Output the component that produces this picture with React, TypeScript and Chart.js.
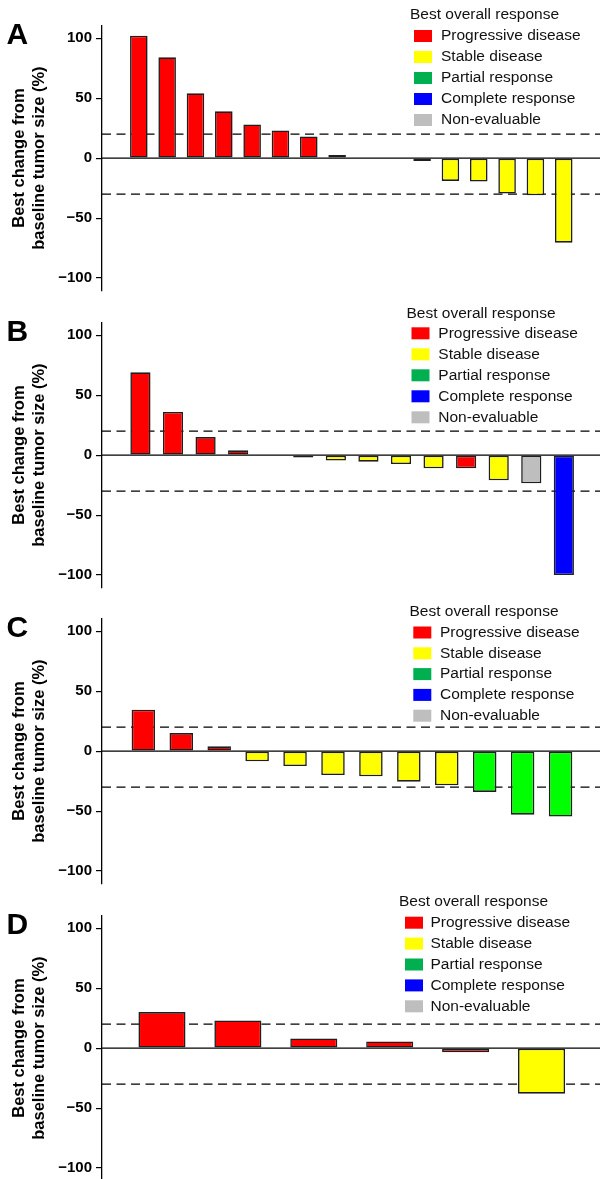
import React, { useEffect, useRef } from 'react';
import { Chart, registerables } from 'chart.js';

Chart.register(...registerables);

const FONT = '"Liberation Sans", Arial, Helvetica, sans-serif';

// ---- data ----
const legendTitle = 'Best overall response';
const responseLabels = ['Progressive disease', 'Stable disease', 'Partial response', 'Complete response', 'Non-evaluable'];
const responseCodes = ['PD', 'SD', 'PR', 'CR', 'NE'];
const legendColors = ['#FF0000', '#FFFF00', '#00B050', '#0000FF', '#BEBEBE'];
const barColors = ['#FF0000', '#FFFF00', '#00FF00', '#0000FF', '#BEBEBE'];

const panelLetters = ['A', 'B', 'C', 'D'];
const yTickValues = [-100, -50, 0, 50, 100];
const yAxisTitle = ['Best change from', 'baseline tumor size (%)'];
const refLines = [20, -30];

const valuesA = [102, 84, 54, 39, 28, 23, 18, 2.5, 0, 0, -2.5, -19, -19.5, -29.5, -31, -70.5];
const responsesA = ['PD', 'PD', 'PD', 'PD', 'PD', 'PD', 'PD', 'SD', 'SD', 'SD', 'PD', 'SD', 'SD', 'SD', 'SD', 'SD'];

const valuesB = [69, 36, 15, 4, 0, -2, -4.5, -5.5, -7.5, -11, -11, -21, -23.5, -100];
const responsesB = ['PD', 'PD', 'PD', 'PD', 'SD', 'SD', 'SD', 'SD', 'SD', 'SD', 'PD', 'SD', 'NE', 'CR'];

const valuesC = [34.5, 15, 4, -8.5, -12.5, -20, -21, -25.5, -28.5, -34, -53, -54.5];
const responsesC = ['PD', 'PD', 'PD', 'SD', 'SD', 'SD', 'SD', 'SD', 'SD', 'PR', 'PR', 'PR'];

const valuesD = [30, 23, 8, 5.5, -3.5, -38];
const responsesD = ['PD', 'PD', 'PD', 'PD', 'PD', 'SD'];

// ---- layout (not data) ----
type LegendPos = { titleX: number; titleY: number; boxX: number; textX: number; rowY: number; rowStep: number };
type PanelCfg = { letter: string; values: number[]; responses: string[]; xMin: number; xMax: number; top: number; legend: LegendPos };

const CANVAS_H = 310;

const panels: PanelCfg[] = [
  { letter: panelLetters[0], values: valuesA, responses: responsesA, xMin: -1.3, xMax: 16.28, top: 0,
    legend: { titleX: 410, titleY: 15, boxX: 414, textX: 441, rowY: 36, rowStep: 21 } },
  { letter: panelLetters[1], values: valuesB, responses: responsesB, xMin: -1.18, xMax: 14.11, top: 297,
    legend: { titleX: 406.5, titleY: 16.3, boxX: 411.5, textX: 438.3, rowY: 36.3, rowStep: 21 } },
  { letter: panelLetters[2], values: valuesC, responses: responsesC, xMin: -1.09, xMax: 12.04, top: 593,
    legend: { titleX: 409.5, titleY: 18.5, boxX: 413.3, textX: 440, rowY: 39.5, rowStep: 20.8 } },
  { letter: panelLetters[3], values: valuesD, responses: responsesD, xMin: -0.79, xMax: 5.77, top: 890,
    legend: { titleX: 399, titleY: 11.7, boxX: 405, textX: 430.5, rowY: 32.7, rowStep: 20.9 } },
];

const decorPlugin = (cfg: PanelCfg) => ({
  id: 'decor' + cfg.letter,
  afterDraw(chart: any) {
    const ctx = chart.ctx as CanvasRenderingContext2D;
    ctx.save();
    ctx.fillStyle = '#000';
    ctx.font = `bold 30px ${FONT}`;
    ctx.textBaseline = 'alphabetic';
    ctx.textAlign = 'left';
    ctx.fillText(cfg.letter, 6.5, 43.5);
    const L = cfg.legend;
    ctx.font = `15.5px ${FONT}`;
    ctx.textBaseline = 'middle';
    ctx.fillStyle = '#111';
    ctx.fillText(legendTitle, L.titleX, L.titleY);
    responseLabels.forEach((lab, k) => {
      const y = L.rowY + k * L.rowStep;
      ctx.fillStyle = legendColors[k];
      ctx.fillRect(L.boxX, y - 6, 18, 12);
      ctx.fillStyle = '#111';
      ctx.fillText(lab, L.textX, y);
    });
    ctx.restore();
  },
});

function Panel({ cfg }: { cfg: PanelCfg }) {
  const ref = useRef<HTMLCanvasElement>(null);
  useEffect(() => {
    const colorOf = (code: string) => barColors[responseCodes.indexOf(code)];
    const hline = (y: number, dashed: boolean, order: number) => ({
      type: 'line' as const,
      data: [{ x: cfg.xMin, y }, { x: cfg.xMax, y }],
      borderColor: '#000',
      borderWidth: dashed ? 1.2 : 1.3,
      borderDash: dashed ? [9, 5.5] : [],
      pointRadius: 0,
      order,
    });
    const chart = new Chart(ref.current as HTMLCanvasElement, {
      type: 'bar',
      data: {
        datasets: [
          {
            type: 'bar',
            data: cfg.values.map((v, i) => ({ x: i, y: v })),
            backgroundColor: cfg.responses.map(colorOf),
            borderColor: '#1e1e1e',
            borderWidth: 1.6,
            borderSkipped: false,
            categoryPercentage: 1,
            barPercentage: 0.62,
            order: 1,
          } as any,
          hline(0, false, 2) as any,
          ...refLines.map((t) => hline(t, true, 3) as any),
        ],
      },
      options: {
        animation: false,
        responsive: false,
        events: [],
        layout: { padding: { left: 0, right: 0, top: 25.5, bottom: CANVAS_H - 290.7 } },
        scales: {
          x: {
            type: 'linear',
            display: false,
            offset: false,
            grid: { offset: false },
            min: cfg.xMin,
            max: cfg.xMax,
            afterBuildTicks: (s: any) => {
              s.ticks = cfg.values.map((_, i) => ({ value: i }));
            },
          },
          y: {
            type: 'linear',
            min: -110.5,
            max: 110.5,
            afterBuildTicks: (s: any) => {
              s.ticks = yTickValues.map((v) => ({ value: v }));
            },
            afterFit: (s: any) => {
              s.width = 102;
            },
            border: { display: true, color: '#000', width: 1.3 },
            grid: { drawOnChartArea: false, drawTicks: true, tickLength: 6, color: '#000', lineWidth: 1.2 },
            ticks: {
              color: '#000',
              padding: 4,
              font: { family: FONT, size: 15, weight: 'bold' },
              callback: (v: any) => (v < 0 ? '\u2212' + Math.abs(v) : String(v)),
            },
            title: {
              display: true,
              text: yAxisTitle,
              color: '#000',
              font: { family: FONT, size: 16.5, weight: 'bold', lineHeight: 1.2 },
              padding: { top: 10, bottom: 0 },
            },
          },
        },
        plugins: { legend: { display: false }, tooltip: { enabled: false } },
      } as any,
      plugins: [decorPlugin(cfg)],
    });
    return () => chart.destroy();
  }, [cfg]);
  return (
    <canvas
      ref={ref}
      width={600}
      height={CANVAS_H}
      style={{ position: 'absolute', left: 0, top: cfg.top, width: 600, height: CANVAS_H }}
    />
  );
}

export default function App() {
  return (
    <div style={{ position: 'absolute', left: 0, top: 0, width: 600, height: 1179, overflow: 'hidden', background: '#fff' }}>
      {panels.map((p) => (
        <Panel key={p.letter} cfg={p} />
      ))}
    </div>
  );
}
